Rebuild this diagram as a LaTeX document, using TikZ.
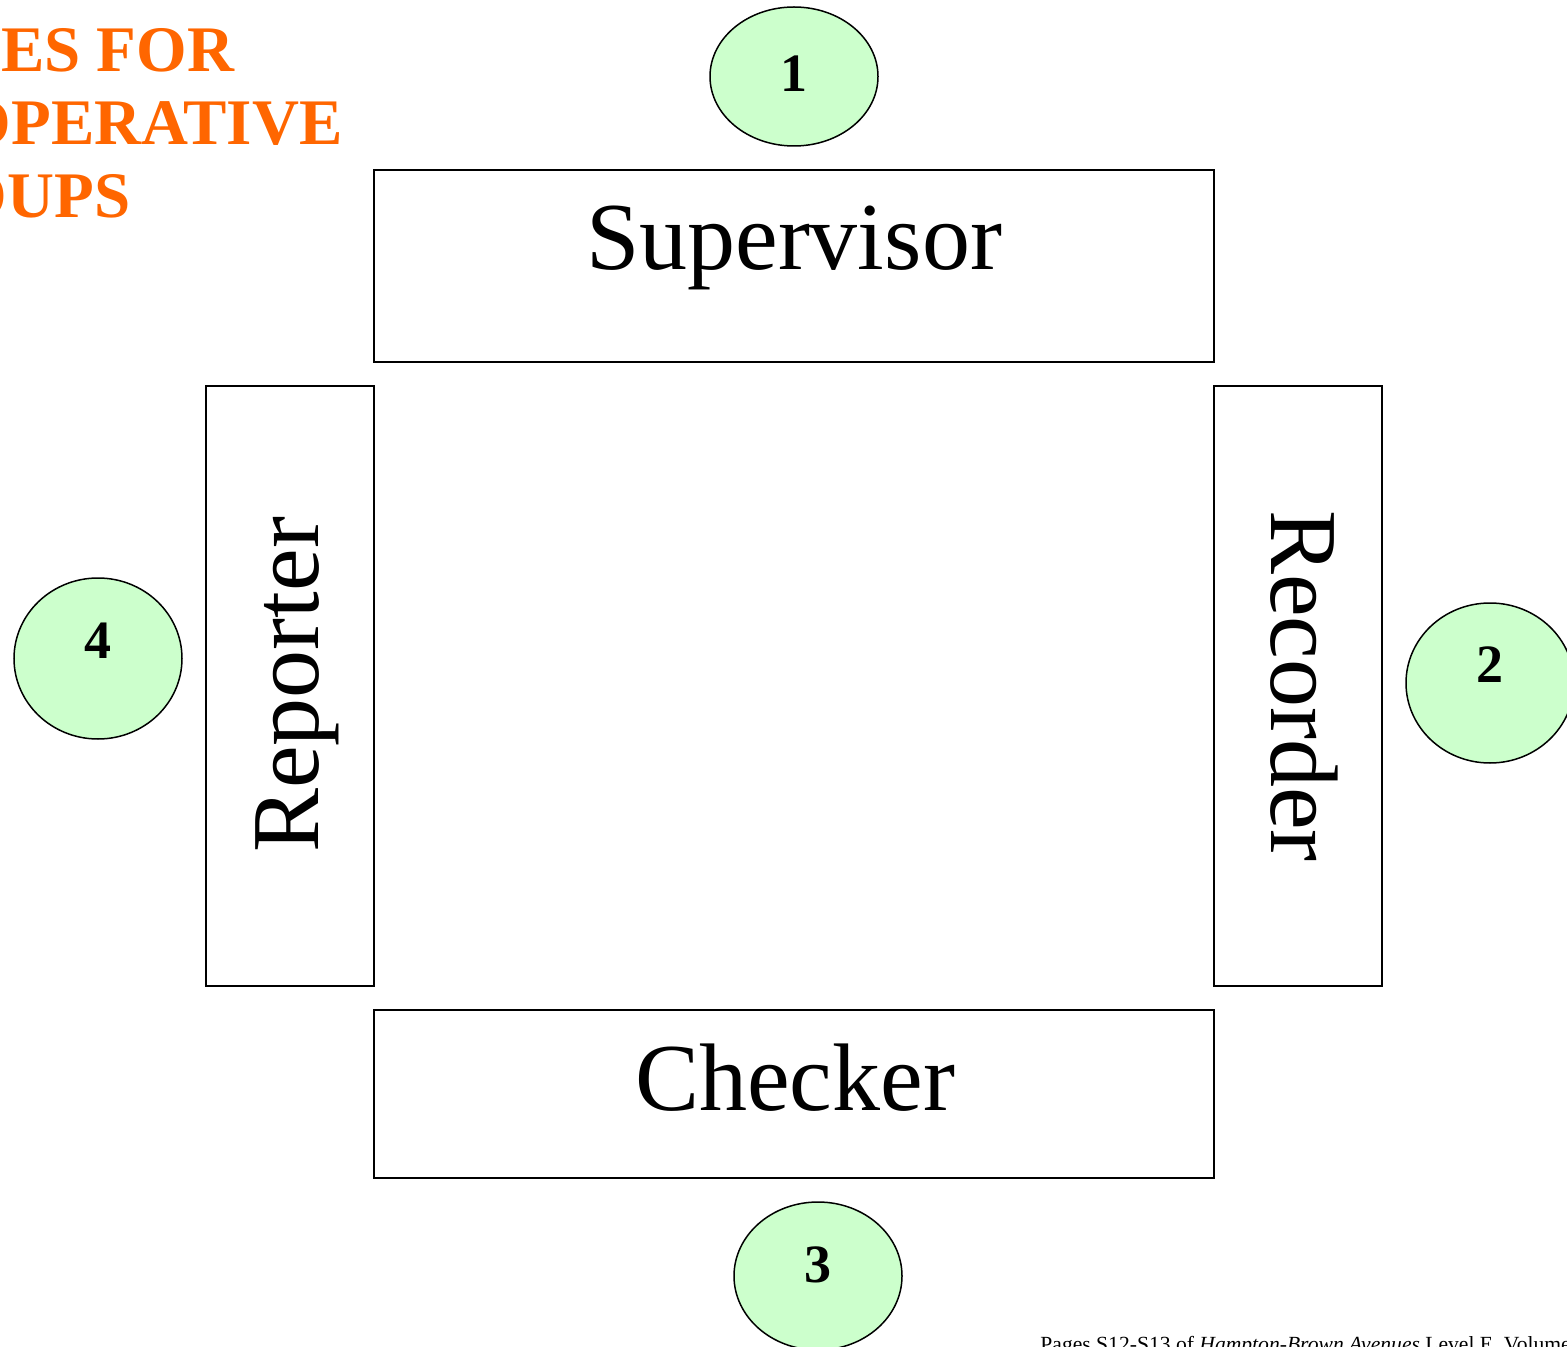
\documentclass[tikz,border=0pt]{standalone}
\usepackage{fontspec}
\setmainfont{Liberation Serif}
\usetikzlibrary{shapes.geometric}
\definecolor{titleorange}{HTML}{FF6600}
\definecolor{seatgreen}{HTML}{CCFFCC}
\tikzstyle{role} = [draw=black, line width=1pt, inner sep=0pt]
\tikzstyle{rolename} = [inner sep=0pt, font={\fontsize{48}{56}\selectfont}]
\tikzstyle{seat} = [draw=black, fill=seatgreen, ellipse, line width=0.75pt, inner sep=0pt, minimum width=84pt]
\tikzstyle{num} = [inner sep=0pt, font={\fontsize{27}{32}\selectfont\bfseries}]
\tikzstyle{title} = [inner sep=0pt, anchor=base west, text=titleorange, font={\fontsize{32.5}{36.5}\selectfont\bfseries}]

\begin{document}
\begin{tikzpicture}[x=0.5pt, y=-0.5pt]
    \useasboundingbox (0,0) rectangle (1567,1347);
    \clip (0,0) rectangle (1567,1347);
    \fill[white] (0,0) rectangle (1567,1347);
    \node[title](title1) at (-140,72){ROLES FOR};
    \node[title](title2) at (-137,145){COOPERATIVE};
    \node[title](title3) at (-141,218){GROUPS};
    % the four sides of the table
    \node[role, minimum width=420pt, minimum height=96pt](supbox) at (794,266){};
    \node[role, minimum width=84pt, minimum height=300pt](repbox) at (290,686){};
    \node[role, minimum width=84pt, minimum height=300pt](recbox) at (1298,686){};
    \node[role, minimum width=420pt, minimum height=84pt](chkbox) at (794,1094){};
    \node[rolename, anchor=base](sup) at (794,270){Supervisor};
    \node[rolename, anchor=base, rotate=90](rep) at (318,685){Reporter};
    \node[rolename, anchor=base, rotate=-90](rec) at (1271,686){Recorder};
    \node[rolename, anchor=base](chk) at (795,1110){Checker};
    % seats
    \node[seat, minimum height=69.5pt](s1) at (794,76.5){};
    \node[seat, minimum height=80pt](s2) at (1490,683){};
    \node[seat, minimum height=74pt](s3) at (818,1276){};
    \node[seat, minimum height=80.5pt](s4) at (98,658.5){};
    \node[num, anchor=base](n1) at (794,92){1};
    \node[num, anchor=base](n2) at (1490,682){2};
    \node[num, anchor=base](n3) at (818,1282){3};
    \node[num, anchor=base](n4) at (98,658){4};
    \node[anchor=base west, inner sep=0pt, font={\fontsize{10.8}{12}\selectfont}](foot) at (1040,1351){Pages S12-S13 of \emph{Hampton-Brown Avenues} Level E, Volume};
  \end{tikzpicture}
\end{document}
